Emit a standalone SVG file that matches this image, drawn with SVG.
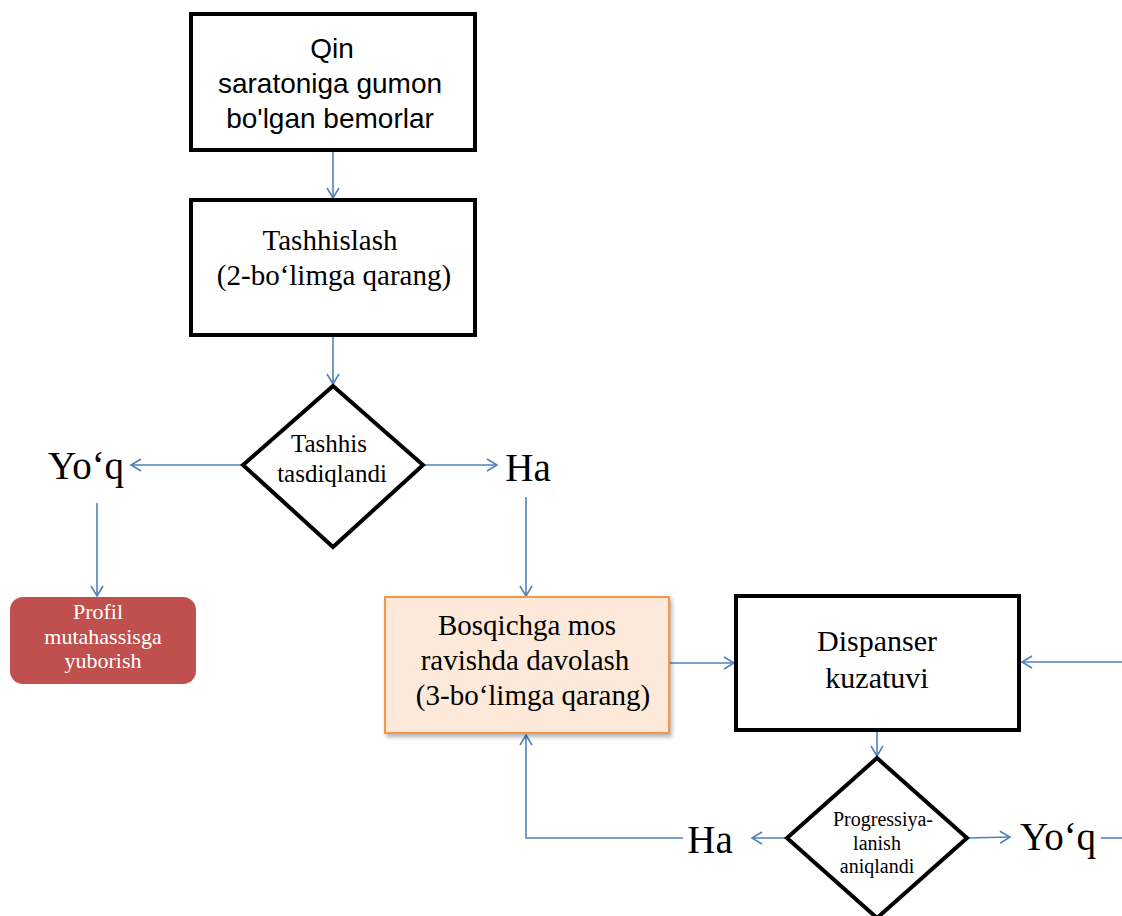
<svg xmlns="http://www.w3.org/2000/svg" width="1122" height="916" viewBox="0 0 1122 916">
<style>
.box{fill:#fff;stroke:#000;stroke-width:4}
.dia{fill:#fff;stroke:#000;stroke-width:4;stroke-linejoin:miter}
.con{fill:none;stroke:#4F81BD;stroke-width:1.6}
.arr{marker-end:url(#ah)}
.sans{font-family:"Liberation Sans",Arial,sans-serif;fill:#000;text-anchor:middle}
.serif{font-family:"Liberation Serif","Times New Roman",serif;fill:#000;text-anchor:middle}
.wh{fill:#fff}
</style>
<defs>
<marker id="ah" markerWidth="14" markerHeight="14" refX="12" refY="7" orient="auto" markerUnits="userSpaceOnUse">
<path d="M2,1 L12,7 L2,13" fill="none" stroke="#4F81BD" stroke-width="1.6"/>
</marker>
<filter id="sh" x="-10%" y="-10%" width="120%" height="130%">
<feDropShadow dx="2" dy="3" stdDeviation="2" flood-color="#000" flood-opacity="0.3"/>
</filter>
</defs>
<rect width="1122" height="916" fill="#fff"/>
<g id="connectors">
<line class="con arr" x1="333" y1="152" x2="333" y2="198"/>
<line class="con arr" x1="333" y1="337" x2="333" y2="384"/>
<line class="con arr" x1="243" y1="465" x2="131" y2="465"/>
<line class="con arr" x1="423" y1="465" x2="497" y2="465"/>
<line class="con arr" x1="97" y1="503" x2="97" y2="596"/>
<line class="con arr" x1="526" y1="497" x2="526" y2="596"/>
<line class="con arr" x1="669" y1="663" x2="734" y2="663"/>
<line class="con arr" x1="1122" y1="662" x2="1022" y2="662"/>
<line class="con arr" x1="877" y1="732" x2="877" y2="756"/>
<line class="con arr" x1="787" y1="838" x2="752" y2="838"/>
<polyline class="con arr" points="683,838 526,838 526,735"/>
<line class="con arr" x1="967" y1="838" x2="1010" y2="837"/>
<line class="con" x1="1101" y1="838" x2="1122" y2="838"/>
</g>
<g id="n1">
<rect class="box" x="191" y="14" width="284" height="136"/>
<text class="sans" font-size="28" x="332" y="58">Qin</text>
<text class="sans" font-size="28" x="330" y="93">saratoniga gumon</text>
<text class="sans" font-size="28" x="330" y="128">bo'lgan bemorlar</text>
</g>
<g id="n2">
<rect class="box" x="191" y="200" width="284" height="135"/>
<text class="serif" font-size="29" x="330" y="250">Tashhislash</text>
<text class="serif" font-size="29" x="334" y="285">(2-bo‘limga qarang)</text>
</g>
<g id="d1">
<polygon class="dia" points="333,386 423,465 333,547 243,465"/>
<text class="serif" font-size="25" x="329" y="452">Tashhis</text>
<text class="serif" font-size="25" x="332" y="482">tasdiqlandi</text>
</g>
<g id="l_yoq1"><text class="serif" font-size="39" x="86" y="479">Yo‘q</text></g>
<g id="l_ha1"><text class="serif" font-size="39" x="528" y="481">Ha</text></g>
<g id="n_profil">
<rect x="10" y="597" width="186" height="87" rx="13" fill="#C0504D"/>
<text class="serif wh" font-size="22" x="98" y="619">Profil</text>
<text class="serif wh" font-size="22" x="103" y="644">mutahassisga</text>
<text class="serif wh" font-size="22" x="103" y="668">yuborish</text>
</g>
<g id="n_davolash">
<rect x="385" y="597" width="284" height="136" fill="#FDE9D9" stroke="#F79646" stroke-width="2" filter="url(#sh)"/>
<text class="serif" font-size="29" x="527" y="635">Bosqichga mos</text>
<text class="serif" font-size="29" x="525" y="670">ravishda davolash</text>
<text class="serif" font-size="29" x="533" y="705">(3-bo‘limga qarang)</text>
</g>
<g id="n_dispanser">
<rect class="box" x="736" y="596" width="283" height="134"/>
<text class="serif" font-size="30" x="877" y="651">Dispanser</text>
<text class="serif" font-size="30" x="877" y="688">kuzatuvi</text>
</g>
<g id="d2">
<polygon class="dia" points="877,758 967,838 877,918 787,838"/>
<text class="serif" font-size="20" x="883" y="826">Progressiya-</text>
<text class="serif" font-size="20" x="877" y="850">lanish</text>
<text class="serif" font-size="20" x="877" y="873">aniqlandi</text>
</g>
<g id="l_ha2"><text class="serif" font-size="39" x="710" y="853">Ha</text></g>
<g id="l_yoq2"><text class="serif" font-size="39" x="1058" y="850">Yo‘q</text></g>
</svg>
